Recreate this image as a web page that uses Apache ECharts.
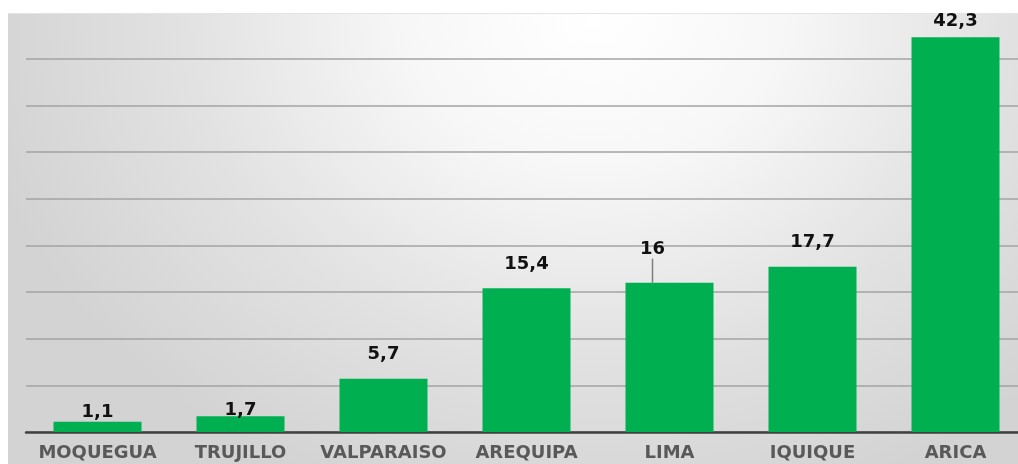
<!DOCTYPE html>
<html>
<head>
<meta charset="utf-8">
<script src="https://cdn.jsdelivr.net/npm/echarts@6/dist/echarts.min.js"></script>
<style>
html,body{margin:0;padding:0;background:#fff;}
#wrap{position:relative;width:1018px;height:464px;overflow:hidden;background:#fff;}
#bg{position:absolute;left:8px;top:13px;right:0;bottom:0;border-top:1px solid #e4e4e4;
 background:radial-gradient(ellipse 62% 115% at 58% 0%, #ffffff 0%, #f7f7f7 30%, #e2e2e2 65%, #d3d3d3 100%);}
#chart{position:absolute;left:0;top:0;width:1018px;height:464px;}
</style>
</head>
<body>
<div id="wrap"><div id="bg"></div><div id="chart"></div></div>
<script>
const categories = ['MOQUEGUA', 'TRUJILLO', 'VALPARAISO', 'AREQUIPA', 'LIMA', 'IQUIQUE', 'ARICA'];
const values = [1.1, 1.7, 5.7, 15.4, 16, 17.7, 42.3];

const labelDistance = {MOQUEGUA: 0, TRUJILLO: -3, ARICA: 7};
const movedLabel = 'LIMA';

const seriesData = values.map((v, i) => {
  const item = {value: v};
  const c = categories[i];
  if (labelDistance[c] !== undefined) item.label = {distance: labelDistance[c]};
  if (c === movedLabel) item.labelLine = {show: true, lineStyle: {color: '#7f7f7f', width: 1.5}};
  return item;
});

const chart = echarts.init(document.getElementById('chart'), null, {renderer: 'canvas'});
chart.setOption({
  backgroundColor: 'transparent',
  animation: false,
  grid: {left: 26, width: 1001, top: 12, height: 420, containLabel: false, outerBoundsMode: 'none'},
  xAxis: {
    type: 'category',
    data: categories,
    axisLine: {show: true, lineStyle: {color: '#404040', width: 2.5}},
    axisTick: {show: false},
    axisLabel: {
      interval: 0, hideOverlap: false,
      color: '#595959', fontFamily: 'DejaVu Sans', fontWeight: 'bold', fontSize: 18, margin: 12
    }
  },
  yAxis: {
    type: 'value', min: 0, max: 45, interval: 5,
    axisLabel: {show: false},
    axisLine: {show: false},
    axisTick: {show: false},
    splitLine: {show: true, showMaxLine: false, lineStyle: {color: '#a3a3a3', width: 1.6}}
  },
  series: [{
    type: 'bar',
    data: seriesData,
    barWidth: 88,
    itemStyle: {color: '#00B050'},
    label: {
      show: true, position: 'top', distance: 15,
      color: '#111111', fontFamily: 'DejaVu Sans', fontWeight: 'bold', fontSize: 18,
      formatter: p => String(p.value).replace('.', ',')
    },
    labelLayout: function (params) {
      if (categories[params.dataIndex] === movedLabel) return {dx: -17, dy: -9};
      return {};
    }
  }]
});
</script>
</body>
</html>
